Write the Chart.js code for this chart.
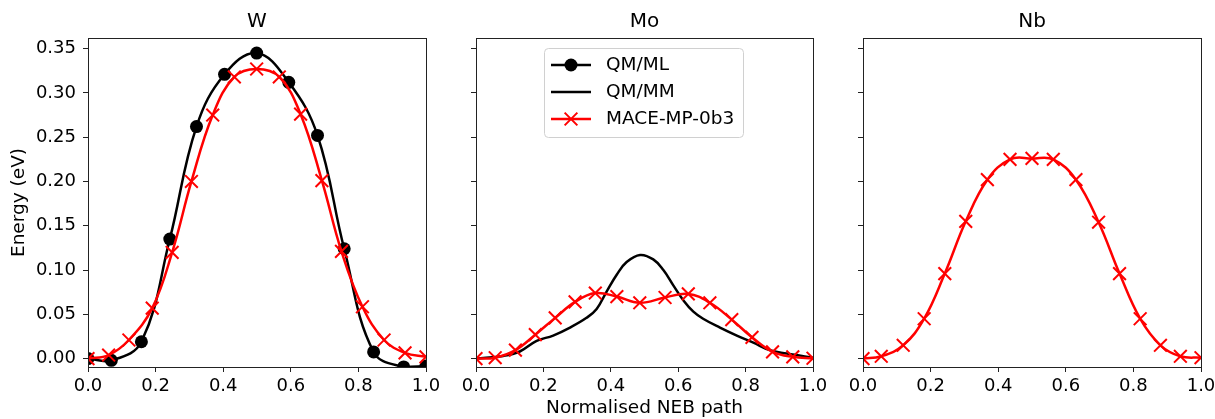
<!DOCTYPE html>
<html>
<head>
<meta charset="utf-8">
<script src="https://cdn.jsdelivr.net/npm/chart.js@4.4.1/dist/chart.umd.min.js"></script>
<style>
  body { margin: 0; background: #fff; }
  #wrap { position: relative; width: 1215px; height: 419px; }
  canvas { position: absolute; top: 0; }
</style>
</head>
<body>
<div id="wrap">
  <canvas id="cW" width="440" height="419" style="left:0px"></canvas>
  <canvas id="cMo" width="390" height="419" style="left:440px"></canvas>
  <canvas id="cNb" width="385" height="419" style="left:830px"></canvas>
</div>
<script>
// Series names
const seriesNames = ['QM/ML', 'QM/MM', 'MACE-MP-0b3'];
const panelTitles = ['W', 'Mo', 'Nb'];

// Axes ticks
const xTicks = [0, 0.2, 0.4, 0.6, 0.8, 1.0];
const yTicks = [0, 0.05, 0.10, 0.15, 0.20, 0.25, 0.30, 0.35];
const yMin = -0.0095, yMax = 0.362;

// W: QM/ML
const wMlX = [0, 0.069, 0.158, 0.242, 0.321, 0.404, 0.499, 0.594, 0.679, 0.758, 0.845, 0.934, 1.0];
const wMlY = [0.000, -0.002, 0.019, 0.135, 0.262, 0.321, 0.345, 0.312, 0.252, 0.124, 0.0075, -0.0094, -0.0085];
// W: MACE
const wMaceX = [0, 0.061, 0.121, 0.190, 0.249, 0.306, 0.369, 0.433, 0.499, 0.566, 0.629, 0.692, 0.750, 0.812, 0.876, 0.938, 1.0];
const wMaceY = [0.000, 0.004, 0.021, 0.057, 0.120, 0.200, 0.275, 0.318, 0.327, 0.318, 0.276, 0.201, 0.121, 0.0585, 0.021, 0.0064, 0.002];

// Mo: QM/MM
const moMmX = [0, 0.081, 0.130, 0.180, 0.229, 0.279, 0.328, 0.358, 0.388, 0.418, 0.447, 0.487, 0.526, 0.556, 0.585, 0.615, 0.645, 0.674, 0.724, 0.774, 0.823, 0.872, 0.922, 0.951, 1.0];
const moMmY = [0.000, 0.003, 0.008, 0.020, 0.026, 0.035, 0.046, 0.056, 0.076, 0.095, 0.109, 0.117, 0.112, 0.100, 0.083, 0.066, 0.053, 0.045, 0.035, 0.026, 0.018, 0.0095, 0.0057, 0.004, 0.001];
// Mo: MACE
const moMaceX = [0, 0.057, 0.117, 0.176, 0.235, 0.294, 0.354, 0.418, 0.486, 0.561, 0.630, 0.694, 0.759, 0.819, 0.880, 0.940, 1.0];
const moMaceY = [0.000, 0.001, 0.0095, 0.027, 0.046, 0.064, 0.074, 0.070, 0.063, 0.069, 0.073, 0.063, 0.044, 0.024, 0.0076, 0.002, 0.0004];

// Nb: MACE
const nbMaceX = [0, 0.054, 0.119, 0.181, 0.242, 0.304, 0.368, 0.435, 0.500, 0.563, 0.630, 0.697, 0.759, 0.820, 0.880, 0.939, 1.0];
const nbMaceY = [0.000, 0.0026, 0.015, 0.045, 0.096, 0.155, 0.202, 0.225, 0.226, 0.225, 0.202, 0.154, 0.096, 0.045, 0.015, 0.0026, 0.001];

const FONT = 'DejaVu Sans';
const pts = (xs, ys) => xs.map((x, i) => ({ x: x, y: ys[i] }));

// dataset styles
const styleMl = { borderColor: '#000', backgroundColor: '#000', borderWidth: 2.5, pointStyle: 'circle',
  pointRadius: 6.5, pointBackgroundColor: '#000', pointBorderWidth: 0, tension: 0.4, order: 1 };
const styleMm = { borderColor: '#000', borderWidth: 2.5, pointRadius: 0, tension: 0.4, order: 1 };
const styleMace = { borderColor: '#ff0000', borderWidth: 2.5, pointStyle: 'crossRot', pointRadius: 9,
  pointBorderColor: '#ff0000', pointBorderWidth: 2, tension: 0.4, order: 0 };

// frame + title
const framePlugin = {
  id: 'frame',
  afterDatasetsDraw(chart, args, opts) {
    const a = chart.chartArea, ctx = chart.ctx;
    ctx.save();
    ctx.strokeStyle = '#222';
    ctx.lineWidth = 1;
    ctx.strokeRect(Math.round(a.left) + 0.5, Math.round(a.top) + 0.5,
      Math.round(a.right - a.left), Math.round(a.bottom - a.top));
    ctx.fillStyle = '#000';
    ctx.font = '20px "' + FONT + '"';
    ctx.textAlign = 'center';
    ctx.textBaseline = 'middle';
    ctx.fillText(opts.text, (a.left + a.right) / 2, 22);
    ctx.restore();
  }
};

// legend box drawn inside the Mo panel
const legendPlugin = {
  id: 'boxLegend',
  afterDraw(chart, args, opts) {
    if (!opts.show) return;
    const ctx = chart.ctx;
    const bx = 104.5, by = 48.5, bw = 199, bh = 89, r = 4;
    ctx.save();
    ctx.beginPath();
    ctx.moveTo(bx + r, by);
    ctx.arcTo(bx + bw, by, bx + bw, by + bh, r);
    ctx.arcTo(bx + bw, by + bh, bx, by + bh, r);
    ctx.arcTo(bx, by + bh, bx, by, r);
    ctx.arcTo(bx, by, bx + bw, by, r);
    ctx.closePath();
    ctx.fillStyle = 'rgba(255,255,255,0.8)';
    ctx.fill();
    ctx.strokeStyle = '#d0d0d0';
    ctx.lineWidth = 1;
    ctx.stroke();
    const styles = [styleMl, styleMm, styleMace];
    const rows = [65, 92, 119];
    styles.forEach((s, i) => {
      const y = rows[i];
      ctx.strokeStyle = s.borderColor;
      ctx.lineWidth = s.borderWidth;
      ctx.beginPath();
      ctx.moveTo(111, y);
      ctx.lineTo(151, y);
      ctx.stroke();
      if (s.pointRadius > 0) {
        ctx.fillStyle = s.pointBackgroundColor || s.borderColor;
        ctx.strokeStyle = s.pointBorderColor || s.borderColor;
        ctx.lineWidth = s.pointBorderWidth;
        Chart.helpers.drawPoint(ctx, { pointStyle: s.pointStyle, radius: s.pointRadius,
          borderWidth: s.pointBorderWidth, rotation: 0 }, 131, y);
      }
      ctx.fillStyle = '#000';
      ctx.font = '18.5px "' + FONT + '"';
      ctx.textAlign = 'left';
      ctx.textBaseline = 'middle';
      ctx.fillText(seriesNames[i], 166, y);
    });
    ctx.restore();
  }
};

function makePanel(id, title, datasets, o) {
  new Chart(document.getElementById(id), {
    type: 'line',
    data: { datasets: datasets },
    plugins: [framePlugin, legendPlugin],
    options: {
      responsive: false,
      animation: false,
      devicePixelRatio: 1,
      layout: { padding: { top: 38, right: o.padRight, left: 0, bottom: 0 } },
      plugins: {
        legend: { display: false },
        tooltip: { enabled: false },
        frame: { text: title },
        boxLegend: { show: !!o.legend }
      },
      scales: {
        x: {
          type: 'linear', min: 0, max: 1,
          afterBuildTicks: s => { s.ticks = xTicks.map(v => ({ value: v })); },
          // fixed height, no extra room for the end labels
          afterFit: s => { s.height = 52; s.paddingLeft = 0; s.paddingRight = 0; },
          grid: { drawOnChartArea: false, color: '#222', tickLength: 5 },
          border: { color: '#222' },
          ticks: { color: '#000', padding: 4, maxRotation: 0, font: { family: FONT, size: 18 },
            callback: v => v.toFixed(1) },
          title: { display: !!o.xTitle, text: 'Normalised NEB path', color: '#000',
            font: { family: FONT, size: 18.5 }, padding: { top: 0, bottom: 0 } }
        },
        y: {
          min: yMin, max: yMax,
          afterBuildTicks: s => { s.ticks = yTicks.map(v => ({ value: v })); },
          afterFit: s => { s.width = o.yWidth; s.paddingTop = 0; s.paddingBottom = 0; },
          grid: { drawOnChartArea: false, color: '#222', tickLength: 5 },
          border: { color: '#222' },
          ticks: { display: !!o.yLabels, color: '#000', padding: 7, font: { family: FONT, size: 18 },
            callback: v => v.toFixed(2) },
          title: { display: !!o.yLabels, text: 'Energy (eV)', color: '#000',
            font: { family: FONT, size: 18.5 }, padding: { top: 8, bottom: 0 } }
        }
      }
    }
  });
}

makePanel('cW', panelTitles[0], [
  Object.assign({ label: seriesNames[2], data: pts(wMaceX, wMaceY) }, styleMace),
  Object.assign({ label: seriesNames[0], data: pts(wMlX, wMlY) }, styleMl)
], { padRight: 14, yWidth: 88, yLabels: true });

makePanel('cMo', panelTitles[1], [
  Object.assign({ label: seriesNames[2], data: pts(moMaceX, moMaceY) }, styleMace),
  Object.assign({ label: seriesNames[1], data: pts(moMmX, moMmY) }, styleMm)
], { padRight: 17, yWidth: 36, xTitle: true, legend: true });

makePanel('cNb', panelTitles[2], [
  Object.assign({ label: seriesNames[2], data: pts(nbMaceX, nbMaceY) }, styleMace)
], { padRight: 14, yWidth: 33 });
</script>
</body>
</html>
